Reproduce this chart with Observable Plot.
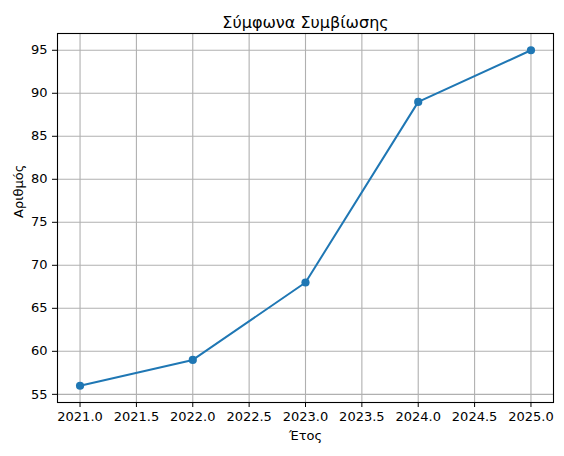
<!DOCTYPE html>
<html>
<head>
<meta charset="utf-8">
<script src="https://cdn.jsdelivr.net/npm/d3@7"></script>
<script src="https://cdn.jsdelivr.net/npm/@observablehq/plot@0.6"></script>
<style>
  html, body { margin: 0; padding: 0; background: #fff; }
  #chart { width: 564px; height: 456px; }
</style>
</head>
<body>
<div id="chart"></div>
<script>
const years = [2021, 2022, 2023, 2024, 2025];
const counts = [56, 59, 68, 89, 95];
const xTicks = [2021.0, 2021.5, 2022.0, 2022.5, 2023.0, 2023.5, 2024.0, 2024.5, 2025.0];
const yTicks = [55, 60, 65, 70, 75, 80, 85, 90, 95];
const title = "Σύμφωνα Συμβίωσης";
const xLabel = "Έτος";
const yLabel = "Αριθμός";

const data = years.map((y, i) => ({year: y, count: counts[i]}));

const chart = Plot.plot({
  width: 564,
  height: 456,
  marginLeft: 57,
  marginRight: 11,
  marginTop: 33,
  marginBottom: 54,
  style: {fontFamily: "DejaVu Sans", fontSize: "13px", color: "#000", background: "#fff"},
  x: {domain: [2020.8, 2025.2]},
  y: {domain: [54.05, 96.95]},
  marks: [
    Plot.gridX(xTicks, {stroke: "#b0b0b0", strokeOpacity: 1, strokeWidth: 1.1}),
    Plot.gridY(yTicks, {stroke: "#b0b0b0", strokeOpacity: 1, strokeWidth: 1.1}),
    Plot.line(data, {x: "year", y: "count", stroke: "#1f77b4", strokeWidth: 2}),
    Plot.dot(data, {x: "year", y: "count", fill: "#1f77b4", r: 4.1}),
    Plot.frame({stroke: "#000", strokeWidth: 1.1}),
    Plot.axisX(xTicks, {tickFormat: d => d.toFixed(1), tickSize: 5, tickPadding: 4, fontSize: 13, label: null}),
    Plot.axisY(yTicks, {tickSize: 5, tickPadding: 5, fontSize: 13, label: null}),
    Plot.text([xLabel], {frameAnchor: "bottom", dy: 37, fontSize: 13, fill: "#000"}),
    Plot.text([yLabel], {frameAnchor: "left", dx: -39, rotate: -90, fontSize: 13, fill: "#000"}),
    Plot.text([title], {frameAnchor: "top", dy: -17, fontSize: 16, fill: "#000"})
  ]
});
document.getElementById("chart").appendChild(chart);
</script>
</body>
</html>
